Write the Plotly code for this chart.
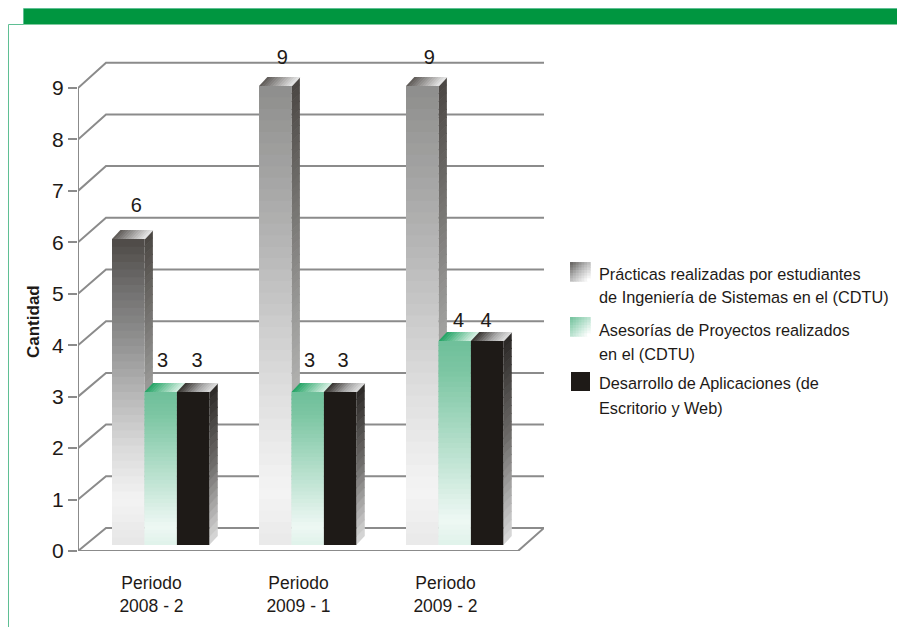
import plotly.graph_objects as go

# ---- data ----
categories = ["Periodo<br>2008 - 2", "Periodo<br>2009 - 1", "Periodo<br>2009 - 2"]
practicas = [6, 9, 9]
asesorias = [3, 3, 4]
desarrollo = [3, 3, 4]
y_ticks = [0, 1, 2, 3, 4, 5, 6, 7, 8, 9]
legend_texts = [
    ["Prácticas realizadas por estudiantes", "de Ingeniería de Sistemas en el (CDTU)"],
    ["Asesorías de Proyectos realizados", "en el (CDTU)"],
    ["Desarrollo de Aplicaciones (de", "Escritorio y Web)"],
]
axis_title = "Cantidad"

# ---- page geometry (px) ----
W, H = 897, 627
PX, PY0, UNIT_Y, UNIT_X = 78, 551, 51.44, 147.0
PLOT_R, PLOT_T = 544, 40
FONT = "Liberation Sans, Arial, sans-serif"
TXT = "#1e1a17"
GRID = "#8b8b8b"


def xd(px):
    return (px - PX) / UNIT_X


def yd(px):
    return (PY0 - px) / UNIT_Y


def fx(px):
    return px / W


def fy(px):
    return 1 - px / H


def hex2rgb(c):
    return tuple(int(c[i:i + 2], 16) for i in (1, 3, 5))


def ramp(stops, f):
    for (a, ca), (b, cb) in zip(stops, stops[1:]):
        if f <= b:
            t = (f - a) / (b - a) if b > a else 0
            ra, rb = hex2rgb(ca), hex2rgb(cb)
            return "rgb(%d,%d,%d)" % tuple(round(p + (q - p) * t) for p, q in zip(ra, rb))
    return stops[-1][1]


TALL = [(0, "#e9e9e9"), (0.12, "#f4f4f4"), (0.33, "#dfdfdf"), (0.5, "#cacaca"), (0.7, "#b0b0b0"), (1, "#8e8e8c")]
SHORT = [(0, "#e6e6e6"), (0.15, "#f3f3f3"), (0.33, "#d8d8d8"), (0.5, "#b5b5b5"), (0.67, "#909090"),
         (0.83, "#727170"), (1, "#4d4946")]
GREEN = [(0, "#dff2ea"), (0.12, "#eef8f4"), (0.85, "#7cc6a3"), (1, "#6fbf9a")]
SIDE_GREY = [(0, "#dcdcdc"), (0.5, "#9a9a98"), (1, "#4a4642")]
SIDE_BLACK = [(0, "#dadada"), (0.5, "#6e6c6a"), (1, "#2a2725")]
TOP_GREY = [(0, "#5c5855"), (1, "#e8e8e8")]
TOP_GREEN = [(0, "#21a263"), (1, "#d8f0e4")]
TOP_BLACK = [(0, "#35312e"), (0.6, "#a8a8a8"), (1, "#dddddd")]
BLACK_FILL = "#1e1a17"

series = [
    dict(name="Prácticas", vals=practicas, side=SIDE_GREY, top=TOP_GREY),
    dict(name="Asesorías", vals=asesorias, side=SIDE_GREY, top=TOP_GREEN),
    dict(name="Desarrollo", vals=desarrollo, side=SIDE_BLACK, top=TOP_BLACK),
]

# bar geometry in px
BAR_L, BAR_W, BASE_PX, BAR_UNIT = 112, 32.45, 545, 51.0
DEP_X, DEP_Y = 8.4, 9
NS = 40


def bar_y(v):
    """value -> data y of the front plane of the bars"""
    return yd(BASE_PX - v * BAR_UNIT)


def wall_y(v):
    """value -> data y on the back wall"""
    return yd(528 - v * 51.7)


fig = go.Figure()

# walls / floor / axis lines
gx, gy = [], []
for t in y_ticks:
    gx += [0, xd(106), xd(PLOT_R), None]
    gy += [t, wall_y(t), wall_y(t), None]
gx += [0, 0, None, 0, xd(518), xd(PLOT_R)]
gy += [0, y_ticks[-1], None, 0, 0, wall_y(0)]
fig.add_trace(go.Scatter(x=gx, y=gy, mode="lines", line=dict(color=GRID, width=2),
                         hoverinfo="skip", showlegend=False, cliponaxis=False))

# side and top faces
for j, s in enumerate(series):
    for i, v in enumerate(s["vals"]):
        L = BAR_L + 147 * i + BAR_W * j
        R = L + BAR_W
        px_top = BASE_PX - v * BAR_UNIT
        h = v * BAR_UNIT
        n = max(6, int(h / 8))
        for k in range(n):
            b0 = BASE_PX - h * k / n
            b1 = BASE_PX - h * (k + 1) / n - (0.8 if k < n - 1 else 0)
            xs = [R, R + DEP_X, R + DEP_X, R, R]
            ys = [b0, b0 - DEP_Y, b1 - DEP_Y, b1, b0]
            fig.add_trace(go.Scatter(
                x=[xd(p) for p in xs], y=[yd(p) for p in ys], mode="lines", fill="toself",
                line=dict(width=0), fillcolor=ramp(s["side"], (k + 0.5) / n),
                hoverinfo="skip", showlegend=False, cliponaxis=False))
        m = 12
        for k in range(m):
            a0 = L + BAR_W * k / m
            a1 = L + BAR_W * (k + 1) / m + 0.8
            xs = [a0, a1, a1 + DEP_X, a0 + DEP_X, a0]
            ys = [px_top, px_top, px_top - DEP_Y, px_top - DEP_Y, px_top]
            fig.add_trace(go.Scatter(
                x=[xd(p) for p in xs], y=[yd(p) for p in ys], mode="lines", fill="toself",
                line=dict(width=0), fillcolor=ramp(s["top"], (k + 0.5) / m),
                hoverinfo="skip", showlegend=False, cliponaxis=False))

# front faces, as bars built from thin slices so that they carry a gradient
for j, s in enumerate(series):
    for i, v in enumerate(s["vals"]):
        L = BAR_L + 147 * i + BAR_W * j
        if j == 2:
            fig.add_trace(go.Bar(x=[xd(L + BAR_W / 2)], y=[bar_y(v) - bar_y(0)], base=[bar_y(0)],
                                 width=BAR_W / UNIT_X, marker=dict(color=BLACK_FILL, line=dict(width=0)),
                                 hoverinfo="skip", showlegend=False, xaxis="x2", yaxis="y2"))
            continue
        stops = GREEN if j == 1 else (TALL if v == max(practicas) else SHORT)
        xc, base, hh, cols = [], [], [], []
        for k in range(NS):
            xc.append(xd(L + BAR_W / 2))
            v0 = v * k / NS
            v1 = v * (k + 1) / NS
            base.append(bar_y(v0))
            hh.append(bar_y(v1) - bar_y(v0) + (0.02 if k < NS - 1 else 0))
            cols.append(ramp(stops, (k + 0.5) / NS))
        fig.add_trace(go.Bar(x=xc, y=hh, base=base, width=BAR_W / UNIT_X,
                             marker=dict(color=cols, line=dict(width=0)),
                             hoverinfo="skip", showlegend=False, xaxis="x2", yaxis="y2"))

# value labels
lab_dx = [[8, 7, 7], [2, 2, 4], [4, 3, -1]]
lab_dy = [[32.5, 27, 27], [30, 30, 19.5], [30, 30, 19.5]]
lx, ly, lt = [], [], []
for j, s in enumerate(series):
    for i, v in enumerate(s["vals"]):
        L = BAR_L + 147 * i + BAR_W * j
        lx.append(xd(L + BAR_W / 2 + lab_dx[j][i]))
        ly.append(yd(BASE_PX - v * BAR_UNIT - lab_dy[j][i]))
        lt.append(str(v))
fig.add_trace(go.Scatter(x=lx, y=ly, text=lt, mode="text", textposition="middle center",
                         textfont=dict(family=FONT, size=20, color=TXT), xaxis="x2", yaxis="y2",
                         hoverinfo="skip", showlegend=False, cliponaxis=False))

# ---- frame, legend swatches ----
shapes = []


def paper_rect(x0, y0, x1, y1, fill):
    shapes.append(dict(type="rect", xref="paper", yref="paper", x0=fx(x0), x1=fx(x1), y0=fy(y0), y1=fy(y1),
                       fillcolor=fill, line=dict(width=0), layer="below"))


paper_rect(23, 9, 898, 24.5, "#009640")
for seg in [(8.5, 24.5, 23, 24.5), (8.5, 24.5, 8.5, 627), (23.5, 8.5, 897, 8.5), (23.5, 8.5, 23.5, 24.5)]:
    shapes.append(dict(type="line", xref="paper", yref="paper", x0=fx(seg[0]), y0=fy(seg[1]),
                       x1=fx(seg[2]), y1=fy(seg[3]), line=dict(color="#5fbf94", width=1), layer="below"))

SW_X, SW_W, SW_H = 570, 20, 19
sw_y = [262, 317]
sw_stops = [[(0, "#5e5b58"), (0.5, "#b8b8b8"), (1, "#ffffff")],
            [(0, "#70c09a"), (0.5, "#b5e0cc"), (1, "#ffffff")]]
SN = 7
for y0, st in zip(sw_y, sw_stops):
    for a in range(SN):
        for b in range(SN):
            f = (a + b + 1) / (2 * SN - 1)
            paper_rect(SW_X + SW_W * a / SN, y0 + SW_H * b / SN,
                       SW_X + SW_W * (a + 1) / SN + 0.7, y0 + SW_H * (b + 1) / SN + 0.7, ramp(st, f))
paper_rect(SW_X + 1, 372, SW_X + SW_W, 372 + SW_H, BLACK_FILL)

annotations = []
for lines, yc in zip(legend_texts, [273.5, 330, 383.5]):
    for q, t in enumerate(lines):
        annotations.append(dict(text=t, x=fx(596.5), y=fy(yc + 24 * q), xref="paper", yref="paper",
                                xanchor="left", yanchor="middle", align="left", showarrow=False,
                                font=dict(family=FONT, size=16.3, color=TXT)))
annotations.append(dict(text="<b>%s</b>" % axis_title, x=fx(33), y=fy(322), xref="paper", yref="paper",
                        textangle=-90, showarrow=False, xanchor="center", yanchor="middle",
                        font=dict(family=FONT, size=17, color=TXT)))

dom_x = [fx(PX), fx(PLOT_R)]
dom_y = [fy(PY0), fy(PLOT_T)]
xr = [0, xd(PLOT_R)]
yr = [0, yd(PLOT_T)]
fig.update_layout(
    width=W, height=H, autosize=False, margin=dict(l=0, r=0, t=0, b=0),
    paper_bgcolor="white", plot_bgcolor="rgba(0,0,0,0)", barmode="overlay", showlegend=False,
    shapes=shapes, annotations=annotations,
    xaxis=dict(domain=dom_x, range=xr, tickvals=[i + 0.5 for i in range(len(categories))], ticktext=categories,
               ticks="outside", ticklen=16, tickcolor="rgba(0,0,0,0)", showgrid=False, zeroline=False, showline=False,
               tickfont=dict(family=FONT, size=17.5, color=TXT), fixedrange=True, automargin=False),
    yaxis=dict(domain=dom_y, range=yr, tickvals=y_ticks, ticks="outside", ticklen=9, tickwidth=2, tickcolor=GRID,
               showgrid=False, zeroline=False, showline=False,
               tickfont=dict(family=FONT, size=21, color=TXT), fixedrange=True, automargin=False),
    xaxis2=dict(domain=dom_x, range=xr, overlaying="x", visible=False, fixedrange=True, automargin=False),
    yaxis2=dict(domain=dom_y, range=yr, overlaying="y", visible=False, fixedrange=True, automargin=False),
)
fig.write_html("out.html", config={"displayModeBar": False}, post_script="document.body.style.margin='0';")
